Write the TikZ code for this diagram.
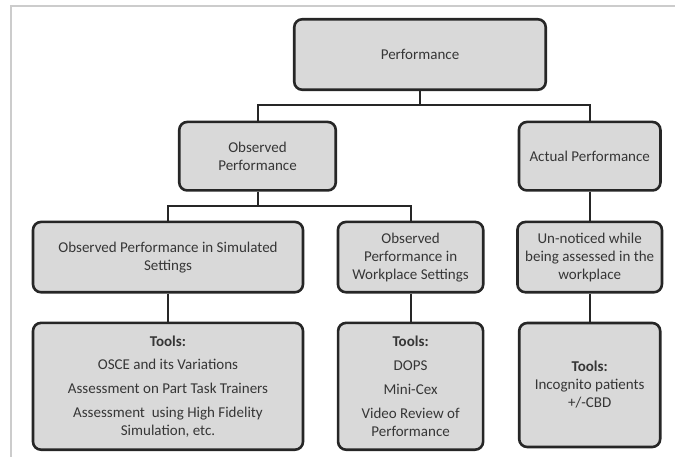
\documentclass[tikz,border=0pt]{standalone}
\usepackage{fontspec}
\setmainfont{Carlito}
\definecolor{boxfill}{HTML}{D9D9D9}
\definecolor{boxline}{HTML}{262626}
\definecolor{txt}{HTML}{363636}
\definecolor{framegray}{HTML}{CCCCCC}
\begin{document}
\begin{tikzpicture}[x=1pt,y=-1pt,
  box/.style={draw=boxline, line width=2.6pt, fill=boxfill, rounded corners=8pt,
    inner sep=0pt, align=center, text=txt, font=\fontsize{15}{18}\selectfont},
  link/.style={draw=boxline, line width=2pt}]
\useasboundingbox (0,0) rectangle (675,457);
\draw[framegray, line width=2pt] (11,457) -- (11,5.7) -- (675,5.7);

\node[box, minimum width=251.5pt, minimum height=70.5pt] (perf) at (420,54.5) {Performance};
\node[box, minimum width=156.5pt, minimum height=68.5pt] (obs) at (257.5,156.2) {Observed\\Performance};
\node[box, minimum width=141.5pt, minimum height=68.5pt] (act) at (589.7,156.2) {Actual Performance};

\node[box, minimum width=270pt, minimum height=70.3pt] (sim) at (168,257.1) {Observed Performance in Simulated\\Settings};
\node[box, minimum width=145.3pt, minimum height=70.3pt] (work) at (410.6,257.1) {Observed\\Performance in\\Workplace Settings};
\node[box, minimum width=144.5pt, minimum height=70.3pt] (unn) at (589.7,257.1) {Un-noticed while\\being assessed in the\\workplace};

\node[box, minimum width=270pt, minimum height=126.8pt] (simt) at (168,386.3)
  {\textbf{Tools:}\\[5.7pt] OSCE and its Variations\\[5.7pt] Assessment on Part Task Trainers\\[5.7pt] Assessment\ \ using High Fidelity\\ Simulation, etc.};
\node[box, minimum width=145pt, minimum height=126.8pt] (workt) at (410.6,386.3)
  {\textbf{Tools:}\\[5.7pt] DOPS\\[5.7pt] Mini-Cex\\[5.7pt] Video Review of\\ Performance};
\node[box, minimum width=141pt, minimum height=124pt] (unnt) at (589.7,385)
  {\textbf{Tools:}\\ Incognito patients\\ +/-CBD};

\coordinate (j1) at (420,105.5);
\coordinate (j2) at (257.5,206.5);
\draw[link] (perf.south) -- (j1);
\draw[link] (obs.north) |- (j1) -| (act.north);
\draw[link] (obs.south) -- (j2);
\draw[link] (sim.north) |- (j2) -| (work.north);
\draw[link] (act.south) -- (unn.north);
\draw[link] (sim.south) -- (simt.north);
\draw[link] (work.south) -- (workt.north);
\draw[link] (unn.south) -- (unnt.north);
\end{tikzpicture}
\end{document}
